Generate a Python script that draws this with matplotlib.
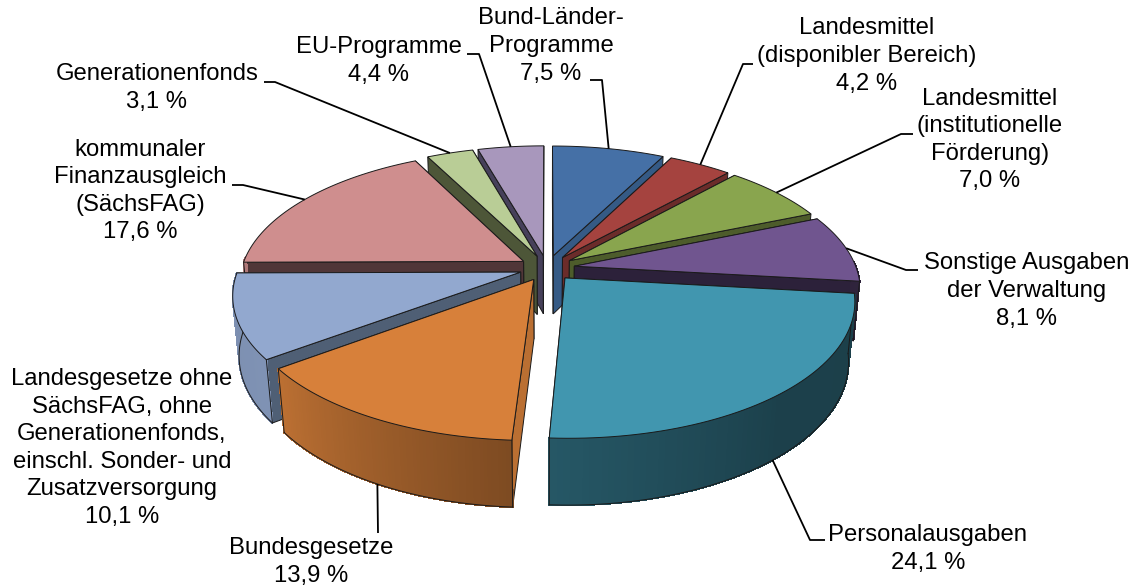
import numpy as np
import matplotlib
matplotlib.use('Agg')
import matplotlib.pyplot as plt
from matplotlib.patches import Polygon

plt.rcParams['font.family'] = ['Liberation Sans', 'DejaVu Sans']

names = ['Bund-Länder-\nProgramme', 'Landesmittel\n(disponibler Bereich)',
         'Landesmittel\n(institutionelle\nFörderung)', 'Sonstige Ausgaben\nder Verwaltung',
         'Personalausgaben', 'Bundesgesetze',
         'Landesgesetze ohne\nSächsFAG, ohne\nGenerationenfonds,\neinschl. Sonder- und\nZusatzversorgung',
         'kommunaler\nFinanzausgleich\n(SächsFAG)', 'Generationenfonds', 'EU-Programme']
values = [7.5, 4.2, 7.0, 8.1, 24.1, 13.9, 10.1, 17.6, 3.1, 4.4]
top_colors = ['#4570A6', '#A5433F', '#89A54E', '#70558F', '#4196AF',
              '#D7803A', '#92A8CF', '#CF8E8E', '#B9CD96', '#A897BC']
side_colors = ['#355A85', '#6B2C2A', '#4D5C2B', '#2C213A', '#1E4552',
               '#BA6F32', '#4F5F75', '#503638', '#4D5638', '#46405A']

# label centre and the elbow of its leader line, None where there is no leader
label_pos = [(551, 46), (867, 56), (990, 140), (1027, 291), (928, 549),
             (311, 562), (122, 448), (140, 191), (157, 88), (379, 61)]
leader_start = [(590, 80), (753, 64), (913, 134), (918, 270), (825, 540),
                (378, 533), None, (232, 185), (264, 82), (467, 54)]
leader_elbow = [(602, 80), (743, 64), (901, 134), (906, 270), (810, 540),
                (378, 533), None, (243, 185), (275, 82), (479, 54)]

# projection of the pie disc: u to the right, v towards the viewer, h downwards
cx, cy = 547, 268
rx, ry, depth = 282, 131, 60
persp, persp_h = 0.161, 0.02
explode = 0.098

# brightness of the outer rim by angle clockwise from 12 o'clock
rim_angles = [60, 96, 140, 183, 233, 270, 300]
rim_light = [0.40, 0.42, 0.43, 0.58, 0.87, 0.85, 0.85]


def project(u, v, h=0.0):
    d = 1 - persp * v + persp_h * h
    return cx + rx * u / d, cy + (ry * v + depth * h) / d


def polar(angle, off, r=1.0):
    a = np.radians(angle)
    return off[0] + r * np.sin(a), off[1] - r * np.cos(a)


def shade(color, k):
    rgb = np.array(matplotlib.colors.to_rgb(color))
    return tuple(rgb * k)


fig = plt.figure(figsize=(11.36, 5.86), dpi=100)
ax = fig.add_axes([0, 0, 1, 1])
ax.set_xlim(0, 1136)
ax.set_ylim(586, 0)
ax.axis('off')

edges = np.cumsum([0] + values) / sum(values) * 360
wedges = []
for i in range(len(values)):
    a0, a1 = edges[i], edges[i + 1]
    mid = (a0 + a1) / 2
    off = (explode * np.sin(np.radians(mid)), -explode * np.cos(np.radians(mid)))
    wedges.append((i, a0, a1, mid, off))

line_c = '#1a1a1a'
# far wedges first, the near ones paint over them; same zorder keeps drawing order
for i, a0, a1, mid, off in sorted(wedges, key=lambda w: -np.cos(np.radians(w[3]))):
    angs = np.linspace(a0, a1, 60)
    uv = np.array([polar(a, off) for a in angs])

    # the two cut faces, the one further back goes first
    for a in sorted((a0, a1), key=lambda x: -np.cos(np.radians(x))):
        pu, pv = polar(a, off)
        pts = [project(off[0], off[1]), project(pu, pv),
               project(pu, pv, 1), project(off[0], off[1], 1)]
        ax.add_patch(Polygon(pts, closed=True, fc=side_colors[i], ec=line_c, lw=0.7, zorder=2))

    # outer rim as thin strips, only the part turned to the viewer
    lo, hi = max(a0, 88), min(a1, 272)
    if hi > lo:
        near = np.linspace(lo, hi, 80)
        rim = np.array([polar(a, off) for a in near])
        for j in range(len(near) - 1):
            k = np.interp((near[j] + near[j + 1]) / 2, rim_angles, rim_light)
            pts = [project(*rim[j]), project(*rim[j + 1]),
                   project(*rim[j + 1], 1), project(*rim[j], 1)]
            col = shade(top_colors[i], k)
            ax.add_patch(Polygon(pts, closed=True, fc=col, ec=col, lw=0.8,
                                 antialiased=False, zorder=2))
        low = np.array([project(*p, 1) for p in rim])
        ax.plot(low[:, 0], low[:, 1], color=line_c, lw=0.7, zorder=2)
        for p, real in ((rim[0], lo == a0), (rim[-1], hi == a1)):
            if real:
                a_, b_ = project(*p), project(*p, 1)
                ax.plot([a_[0], b_[0]], [a_[1], b_[1]], color=line_c, lw=0.7, zorder=2)

    # top surface
    top = [project(off[0], off[1])] + [project(*p) for p in uv]
    ax.add_patch(Polygon(top, closed=True, fc=top_colors[i], ec=line_c, lw=0.7, zorder=2))

# labels and leader lines
for i, a0, a1, mid, off in wedges:
    ax.text(label_pos[i][0], label_pos[i][1],
            names[i] + '\n' + f'{values[i]:.1f}'.replace('.', ',') + ' %',
            ha='center', va='center', fontsize=17.2, color='black', linespacing=1.33, zorder=4)
    if leader_start[i] is None:
        continue
    pu, pv = polar(mid, off)
    # front wedges take the leader from the lower rim, back ones from the top
    end = project(pu, pv, 1 if np.cos(np.radians(mid)) < 0 else 0)
    xs = [leader_start[i][0], leader_elbow[i][0], end[0]]
    ys = [leader_start[i][1], leader_elbow[i][1], end[1]]
    ax.plot(xs, ys, color='black', lw=1.3, zorder=3, solid_capstyle='butt')

fig.savefig('out.png', dpi=100)
